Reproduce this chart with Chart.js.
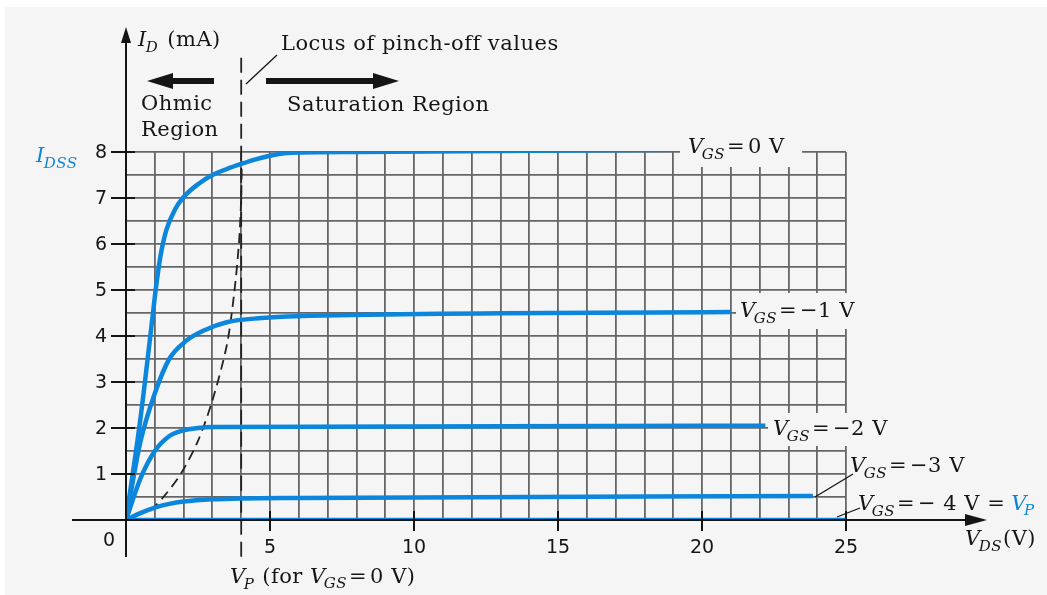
<!DOCTYPE html>
<html>
<head>
<meta charset="utf-8">
<script src="https://cdn.jsdelivr.net/npm/chart.js@4"></script>
<style>
  html, body { margin: 0; padding: 0; background: #fff; }
  canvas { display: block; }
</style>
</head>
<body>
<canvas id="chart" width="1047" height="595"></canvas>
<script>
// JFET drain characteristics, I_D (mA) against V_DS (V)
const vdsGs0 = [0, 0.5, 0.9, 1.05, 1.2, 1.4, 1.7, 2.0, 2.5, 3.0, 3.5, 4.0, 4.5, 5.0, 5.5, 6.0, 8, 19.2];
const idGs0  = [0, 2.2, 4.3, 5.1, 5.75, 6.3, 6.75, 7.02, 7.3, 7.5, 7.63, 7.74, 7.84, 7.92, 7.97, 7.99, 8.0, 8.05];

const vdsGs1 = [0, 0.5, 1.0, 1.5, 2.1, 2.7, 3.5, 4.7, 5.9, 21.0];
const idGs1  = [0, 1.7, 2.75, 3.5, 3.9, 4.12, 4.3, 4.39, 4.43, 4.52];

const vdsGs2 = [0, 0.5, 1.0, 1.5, 2.0, 2.5, 3.0, 22.2];
const idGs2  = [0, 0.9, 1.5, 1.82, 1.95, 2.0, 2.02, 2.05];

const vdsGs3 = [0, 0.5, 1.0, 1.5, 2.0, 3.0, 4.0, 6.0, 23.85];
const idGs3  = [0, 0.15, 0.27, 0.35, 0.4, 0.45, 0.47, 0.48, 0.52];

const vdsGs4 = [0, 25];
const idGs4  = [0, 0];

// locus of pinch-off values (dashed)
const locusVds = [0.85, 1.3, 1.9, 2.5, 3.0, 3.5, 3.75, 3.92, 4.0, 4.02];
const locusId  = [0.2, 0.5, 1.0, 1.72, 2.6, 3.8, 4.9, 6.0, 7.0, 7.8];

// V_P marker line at V_DS = 4 V
const vpVds = [4, 4];
const vpId  = [10.05, -0.8];

const xTickValues = [5, 10, 15, 20, 25];
const yTickValues = [1, 2, 3, 4, 5, 6, 7, 8];

const BLUE = '#0b86dc';
const BG = '#f5f5f5';
const INK = '#151515';
const SERIF = '"DejaVu Serif", serif';
const SANS = '"DejaVu Sans", sans-serif';

function pts(xs, ys) {
  return xs.map((x, i) => ({ x: x, y: ys[i] }));
}

function curve(xs, ys) {
  return {
    data: pts(xs, ys),
    borderColor: BLUE,
    borderWidth: 4.5,
    pointRadius: 0,
    showLine: true,
    fill: false,
    cubicInterpolationMode: 'monotone'
  };
}

// draws a run of text pieces: [text, font, color, dy, gapBefore]
function rich(ctx, x, y, parts) {
  let cx = x;
  parts.forEach(p => {
    cx += p[4] || 0;
    ctx.font = p[1];
    ctx.fillStyle = p[2] || INK;
    ctx.fillText(p[0], cx, y + (p[3] || 0));
    cx += ctx.measureText(p[0]).width;
  });
  return cx;
}

function seg(ctx, x1, y1, x2, y2) {
  ctx.beginPath();
  ctx.moveTo(x1, y1);
  ctx.lineTo(x2, y2);
  ctx.stroke();
}

function tri(ctx, a, b, c) {
  ctx.beginPath();
  ctx.moveTo(a[0], a[1]);
  ctx.lineTo(b[0], b[1]);
  ctx.lineTo(c[0], c[1]);
  ctx.closePath();
  ctx.fill();
}

const R = '21px ' + SERIF;
const I = 'italic 21px ' + SERIF;
const SUB = 'italic 15px ' + SERIF;

function vgsParts(rest, tail) {
  const parts = [['V', I], ['GS', SUB, INK, 6, -2], ['=', R, INK, 0, 2], [rest, R, INK, 0, 3]];
  return tail ? parts.concat(tail) : parts;
}

const decor = {
  id: 'decor',
  beforeDraw(chart) {
    const ctx = chart.ctx;
    ctx.save();
    ctx.fillStyle = '#fff';
    ctx.fillRect(0, 0, chart.width, chart.height);
    ctx.fillStyle = BG;
    ctx.fillRect(5, 7, chart.width - 5, chart.height - 7);
    ctx.restore();
  },
  beforeDatasetsDraw(chart) {
    // label boxes hide the grid behind the curve names
    const ctx = chart.ctx;
    ctx.save();
    ctx.fillStyle = BG;
    ctx.fillRect(680, 128, 122, 39);
    ctx.fillRect(736, 293, 134, 36);
    ctx.fillRect(768, 413, 127, 33);
    ctx.restore();
  },
  afterDatasetsDraw(chart) {
    const ctx = chart.ctx;
    const xs = chart.scales.x, ys = chart.scales.y;
    const x0 = xs.getPixelForValue(0), y0 = ys.getPixelForValue(0);
    ctx.save();
    ctx.strokeStyle = INK;
    ctx.fillStyle = INK;
    ctx.lineWidth = 2;

    // axes with arrow heads
    seg(ctx, x0, y0 + 37, x0, 40);
    tri(ctx, [x0, 27], [x0 - 5, 43], [x0 + 5, 43]);
    seg(ctx, 72, y0, 970, y0);
    tri(ctx, [987, y0], [965, y0 - 6], [965, y0 + 6]);

    // y ticks and labels
    ctx.textBaseline = 'middle';
    ctx.textAlign = 'right';
    ctx.font = '19px ' + SANS;
    yTickValues.forEach(v => {
      const py = ys.getPixelForValue(v);
      seg(ctx, x0 - 15, py, x0 + 9, py);
      ctx.fillText(String(v), x0 - 19, py + 1);
    });
    // x ticks and labels
    ctx.textAlign = 'center';
    xTickValues.forEach(v => {
      const px = xs.getPixelForValue(v);
      seg(ctx, px, y0 - 9, px, y0 + 11);
      ctx.fillText(String(v), px, y0 + 28);
    });
    ctx.fillText('0', x0 - 17, y0 + 21);

    // region arrows
    ctx.lineWidth = 6;
    seg(ctx, 214, 81, 170, 81);
    tri(ctx, [147, 81], [173, 73], [173, 89]);
    seg(ctx, 266, 81, 377, 81);
    tri(ctx, [399, 81], [373, 73], [373, 89]);

    // leader lines
    ctx.lineWidth = 1.3;
    seg(ctx, 246, 84, 277, 55);
    seg(ctx, 815, 497, 853, 474);
    seg(ctx, 837, 517, 860, 508);

    // texts
    ctx.textAlign = 'left';
    ctx.textBaseline = 'alphabetic';
    ctx.letterSpacing = '0.5px';
    rich(ctx, 138, 46, [['I', I], ['D', SUB, INK, 6, -1], ['(mA)', R, INK, 0, 9]]);
    rich(ctx, 281, 50, [['Locus of pinch-off values', R]]);
    rich(ctx, 141, 110, [['Ohmic', R]]);
    rich(ctx, 141, 136, [['Region', R]]);
    rich(ctx, 287, 111, [['Saturation Region', R]]);
    rich(ctx, 36, 162, [['I', I, BLUE], ['DSS', SUB, BLUE, 6, -1]]);

    rich(ctx, 688, 153, vgsParts('0 V'));
    rich(ctx, 740, 317, vgsParts('\u22121 V'));
    rich(ctx, 773, 435, vgsParts('\u22122 V'));
    rich(ctx, 850, 472, vgsParts('\u22123 V'));
    rich(ctx, 858, 510, vgsParts('\u2212 4 V =', [['V', I, BLUE, 0, 6], ['P', SUB, BLUE, 5, -3]]));

    rich(ctx, 965, 545, [['V', I], ['DS', SUB, INK, 6, -2], ['(V)', R, INK, 0, 1]]);
    rich(ctx, 230, 583, [['V', I], ['P', SUB, INK, 6, -2], ['(for ', R, INK, 0, 8], ['V', I], ['GS', SUB, INK, 5, -2], ['=', R, INK, 0, 2], ['0 V)', R, INK, 0, 3]]);

    ctx.restore();
  }
};

const chart = new Chart(document.getElementById('chart'), {
  type: 'scatter',
  data: {
    datasets: [
      curve(vdsGs0, idGs0),
      curve(vdsGs1, idGs1),
      curve(vdsGs2, idGs2),
      curve(vdsGs3, idGs3),
      curve(vdsGs4, idGs4),
      {
        data: pts(locusVds, locusId),
        borderColor: '#222',
        borderWidth: 1.8,
        borderDash: [10, 6],
        pointRadius: 0,
        showLine: true,
        tension: 0.3
      },
      {
        data: pts(vpVds, vpId),
        borderColor: '#222',
        borderWidth: 1.8,
        borderDash: [15, 7],
        pointRadius: 0,
        showLine: true,
        clip: false
      }
    ]
  },
  options: {
    responsive: false,
    animation: false,
    events: [],
    layout: { padding: { left: 126, right: 201, top: 152, bottom: 75 } },
    plugins: { legend: { display: false }, tooltip: { enabled: false } },
    scales: {
      x: {
        type: 'linear',
        min: 0,
        max: 25,
        ticks: { display: false, stepSize: 1 },
        grid: { color: '#666', lineWidth: 1.8, drawTicks: false },
        border: { display: false }
      },
      y: {
        type: 'linear',
        min: 0,
        max: 8,
        ticks: { display: false, stepSize: 0.5 },
        grid: { color: '#666', lineWidth: 1.8, drawTicks: false },
        border: { display: false }
      }
    }
  },
  plugins: [decor]
});
</script>
</body>
</html>
